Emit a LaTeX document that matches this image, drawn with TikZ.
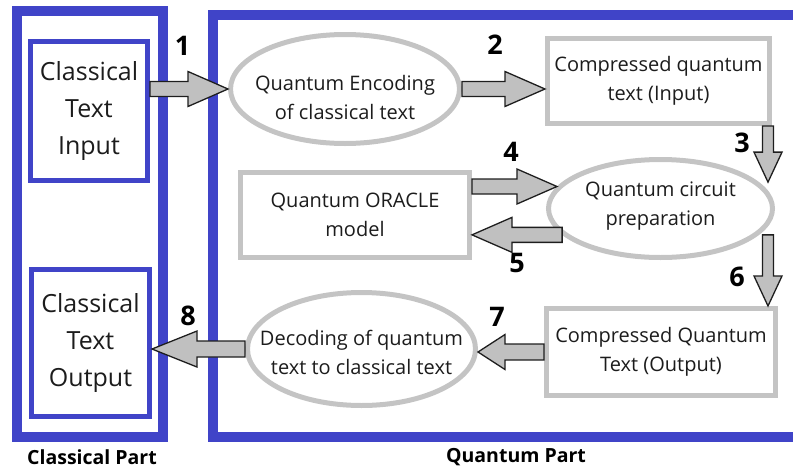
\documentclass[tikz,border=0pt]{standalone}
\usepackage{fontspec}
\setmainfont{Open Sans}
\usetikzlibrary{shapes.geometric,calc}

\definecolor{frameblue}{RGB}{64,68,200}
\definecolor{boxgray}{RGB}{196,196,196}
\definecolor{arrfill}{RGB}{192,192,192}
\definecolor{arrline}{RGB}{30,30,30}
\definecolor{txtcol}{RGB}{28,28,28}

% block arrow: shaft half width, head half width, head length
\tikzset{
  blk/.style n args={3}{draw=arrline, fill=arrfill, line width=1.3pt, line join=miter,
    to path={($(\tikztotarget)!#3!(\tikztostart)$) coordinate (hb)
      ($(\tikztostart)!#1!90:(\tikztotarget)$) -- ($(hb)!#1!90:(\tikztotarget)$)
      -- ($(hb)!#2!90:(\tikztotarget)$) -- (\tikztotarget)
      -- ($(hb)!#2!-90:(\tikztotarget)$) -- ($(hb)!#1!-90:(\tikztotarget)$)
      -- ($(\tikztostart)!#1!-90:(\tikztotarget)$) -- cycle}},
  harrow/.style={blk={7.5pt}{17.5pt}{40pt}},
  varrow/.style={blk={5.5pt}{14pt}{30pt}}
}

\begin{document}
\begin{tikzpicture}[x=1pt, y=-1pt]
        \tikzstyle{every node}=[text=txtcol]
        \tikzstyle{frame}=[draw=frameblue, line width=10pt]
        \tikzstyle{cbox}=[draw=frameblue, line width=5pt, rectangle, inner sep=0pt, align=center, font=\fontsize{25}{37}\selectfont]
        \tikzstyle{qbox}=[draw=boxgray, line width=5pt, rectangle, inner sep=0pt, align=center, font=\fontsize{20}{29}\selectfont]
        \tikzstyle{oval}=[draw=boxgray, line width=5pt, ellipse, inner sep=0pt]
        \tikzstyle{otext}=[align=center, text=txtcol, font=\fontsize{20}{29}\selectfont]
        \tikzstyle{num}=[text=black, font=\fontsize{27}{30}\selectfont\bfseries]
        \tikzstyle{part}=[text=black, font=\fontsize{19.5}{23}\selectfont\bfseries]

        \useasboundingbox (0,0) rectangle (793,469);

% classical and quantum frames
        \draw[frame] (17,11) rectangle (163,437);
        \draw[frame] (213,15) rectangle (830,437);

        \node[cbox, minimum width=117pt, minimum height=139pt] (cin) at (89,111) {Classical\\Text\\Input};
        \node[cbox, minimum width=118pt, minimum height=147pt] (cout) at (90.5,343) {Classical\\Text\\Output};

        \node[oval, minimum width=229pt, minimum height=109pt,
              label={[otext, yshift=-8pt]center:Quantum Encoding\\of classical text}] (enc) at (345,89) {};
        \node[qbox, minimum width=222pt, minimum height=85pt] (cmpin) at (658.5,81) {Compressed quantum\\text (Input)};
        \node[oval, minimum width=224pt, minimum height=98pt,
              label={[otext, yshift=2pt]center:Quantum circuit\\preparation}] (circ) at (660.5,208.5) {};
        \node[qbox, minimum width=229pt, minimum height=85pt] (oracle) at (355,215) {Quantum ORACLE\\model};
        \node[qbox, minimum width=229pt, minimum height=87pt] (cmpout) at (661,352) {Compressed Quantum\\Text (Output)};
        \node[oval, minimum width=228pt, minimum height=113pt,
              label={[otext, yshift=-3pt]center:Decoding of quantum\\text to classical text}] (dec) at (361.5,349) {};

% steps
        \draw[harrow] (cin.east |- enc.west) to (enc.west);
        \draw[harrow] (enc.east) to (enc.east -| cmpin.west);
        \draw[varrow] ($(cmpin.south east)+(-4,0)$) to ($(cmpin.south east |- circ.15)+(-4,0)$);
        \draw[harrow] (oracle.east |- circ.168) to (circ.168);
        \draw[harrow] (circ.195) to (circ.195 -| oracle.east);
        \draw[varrow] ($(cmpout.north east |- circ.-15)+(-10,0)$) to ($(cmpout.north east)+(-10,0)$);
        \draw[blk={8pt}{17.5pt}{27pt}] (cmpout.west) to (cmpout.west -| dec.east);
        \draw[blk={8pt}{18pt}{45pt}] (dec.west) to (dec.west -| cout.east);

        \node[num] (n1) at (182.5,46) {1};
        \node[num] (n2) at (495,45) {2};
        \node[num] (n3) at (742,143) {3};
        \node[num] (n4) at (511,152) {4};
        \node[num] (n5) at (517,263) {5};
        \node[num] (n6) at (737,277) {6};
        \node[num] (n7) at (497,317) {7};
        \node[num] (n8) at (188,316) {8};

        \node[part] (clpart) at (92,457) {Classical Part};
        \node[part] (qupart) at (516,457) {Quantum Part};

    \end{tikzpicture}
\end{document}
